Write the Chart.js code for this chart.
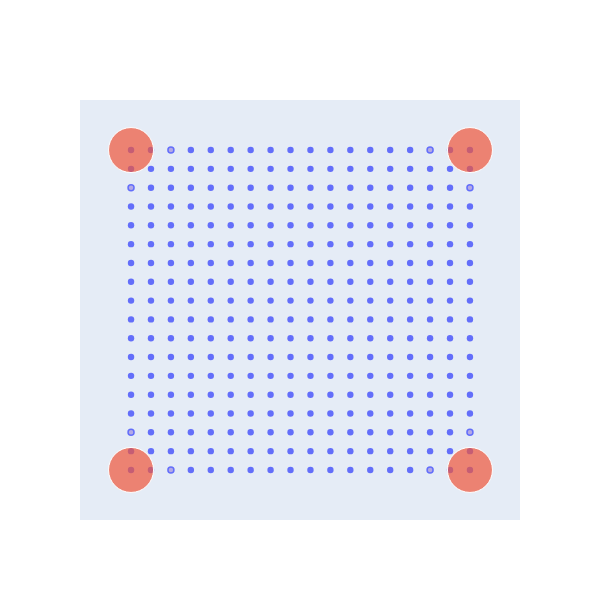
<!DOCTYPE html>
<html>
<head>
<meta charset="utf-8">
<script src="https://cdn.jsdelivr.net/npm/chart.js@4"></script>
<style>
  html, body { margin: 0; padding: 0; background: #fff; }
  #wrap { width: 600px; height: 600px; }
</style>
</head>
<body>
<div id="wrap"><canvas id="chart" width="600" height="600"></canvas></div>
<script>
const gridX = [0, 1, 2, 3, 4, 5, 6, 7, 8, 9, 10, 11, 12, 13, 14, 15, 16, 17];
const gridY = [0, 1, 2, 3, 4, 5, 6, 7, 8, 9, 10, 11, 12, 13, 14, 15, 16, 17];
// points drawn with a lighter centre
const ringPoints = [[2, 0], [15, 0], [0, 2], [17, 2], [0, 15], [17, 15], [2, 17], [15, 17]];
// large corner markers
const cornerX = [0, 17, 0, 17];
const cornerY = [0, 0, 17, 17];

const isRing = (x, y) => ringPoints.some(p => p[0] === x && p[1] === y);

const dots = [];
const rings = [];
gridY.forEach(y => gridX.forEach(x => {
    (isRing(x, y) ? rings : dots).push({x: x, y: y});
}));
const corners = cornerX.map((x, i) => ({x: x, y: cornerY[i]}));

const plotBg = {
    id: 'plotBg',
    beforeDraw(chart) {
        const a = chart.chartArea;
        const c = chart.ctx;
        c.save();
        c.fillStyle = '#e5ecf6';
        c.fillRect(a.left, a.top, a.right - a.left, a.bottom - a.top);
        c.restore();
    }
};

new Chart(document.getElementById('chart'), {
    type: 'scatter',
    data: {
        datasets: [{
            label: 'corners',
            data: corners,
            pointRadius: 22.5,
            pointHoverRadius: 22.5,
            backgroundColor: 'rgba(239,85,59,0.7)',
            borderColor: '#ffffff',
            borderWidth: 1,
            order: 0
        }, {
            label: 'rings',
            data: rings,
            pointRadius: 3,
            backgroundColor: '#b3a9e6',
            borderColor: '#636efa',
            borderWidth: 1.5,
            order: 1
        }, {
            label: 'dots',
            data: dots,
            pointRadius: 3.2,
            backgroundColor: '#636efa',
            borderWidth: 0,
            order: 2
        }]
    },
    options: {
        responsive: false,
        animation: false,
        clip: false,
        layout: {
            padding: {left: 80, right: 80, top: 100, bottom: 80}
        },
        scales: {
            x: {
                display: false,
                min: -2.56,
                max: 19.51
            },
            y: {
                display: false,
                reverse: true,
                min: -2.66,
                max: 19.66
            }
        },
        plugins: {
            legend: { display: false },
            tooltip: { enabled: false }
        }
    },
    plugins: [plotBg]
});
</script>
</body>
</html>
